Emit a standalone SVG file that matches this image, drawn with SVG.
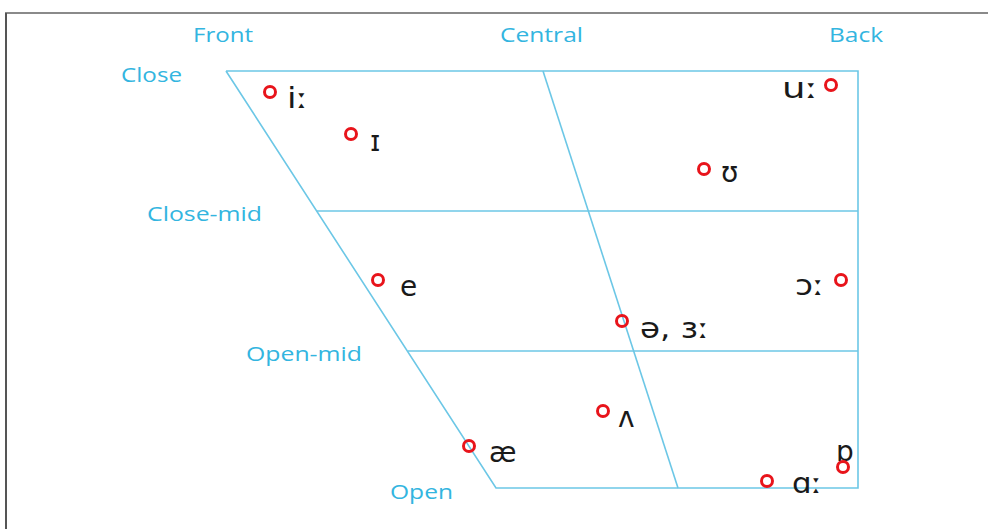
<svg xmlns="http://www.w3.org/2000/svg" width="988" height="529" viewBox="0 0 988 529">
<style>
.lbl{font-family:"Open Sans","Liberation Sans",sans-serif;font-size:20px;fill:#33b5e0}
.grid{stroke:#6cc7e6;stroke-width:1.6;fill:none}
.dot{fill:none;stroke:#e8141b;stroke-width:3}
.ipa{font-family:"DejaVu Sans","Noto Sans",sans-serif;font-size:28px;fill:#1a1a1a}
</style>
<rect width="988" height="529" fill="#fff"/>
<line x1="5" y1="13" x2="988" y2="13" stroke="#8a8a8a" stroke-width="2"/>
<line x1="6" y1="13" x2="6" y2="529" stroke="#555" stroke-width="2"/>
<g id="labels">
<text class="lbl" x="193" y="42" textLength="60" lengthAdjust="spacingAndGlyphs">Front</text>
<text class="lbl" x="500" y="42" textLength="83" lengthAdjust="spacingAndGlyphs">Central</text>
<text class="lbl" x="829" y="42" textLength="54" lengthAdjust="spacingAndGlyphs">Back</text>
<text class="lbl" x="121" y="82" textLength="61" lengthAdjust="spacingAndGlyphs">Close</text>
<text class="lbl" x="147" y="221" textLength="115" lengthAdjust="spacingAndGlyphs">Close-mid</text>
<text class="lbl" x="246" y="361" textLength="116" lengthAdjust="spacingAndGlyphs">Open-mid</text>
<text class="lbl" x="390" y="499" textLength="63" lengthAdjust="spacingAndGlyphs">Open</text>
</g>
<g id="connectors">
<polyline class="grid" points="226,71 858,71 858,488 496,488 226,71"/>
<line class="grid" x1="543" y1="71" x2="678" y2="488"/>
<line class="grid" x1="317" y1="211" x2="858" y2="211"/>
<line class="grid" x1="408" y1="351" x2="858" y2="351"/>
</g>
<g id="i-long"><circle class="dot" cx="270" cy="92" r="5.5"/><text class="ipa" x="287" y="108" textLength="21" lengthAdjust="spacingAndGlyphs">iː</text></g>
<g id="i-short"><circle class="dot" cx="351" cy="134" r="5.5"/><text class="ipa" x="370" y="151">ɪ</text></g>
<g id="u-long"><circle class="dot" cx="831" cy="85" r="5.5"/><text class="ipa" x="782" y="98" textLength="36" lengthAdjust="spacingAndGlyphs">uː</text></g>
<g id="u-short"><circle class="dot" cx="704" cy="169" r="5.5"/><text class="ipa" x="721" y="182">ʊ</text></g>
<g id="e"><circle class="dot" cx="378" cy="280" r="5.5"/><text class="ipa" x="400" y="296">e</text></g>
<g id="o-long"><circle class="dot" cx="841" cy="280" r="5.5"/><text class="ipa" x="795" y="295" textLength="29" lengthAdjust="spacingAndGlyphs">ɔː</text></g>
<g id="schwa"><circle class="dot" cx="622" cy="321" r="5.5"/><text class="ipa" x="640" y="338" textLength="69" lengthAdjust="spacingAndGlyphs">ə, ɜː</text></g>
<g id="wedge"><circle class="dot" cx="603" cy="411" r="5.5"/><text class="ipa" x="618" y="427">ʌ</text></g>
<g id="ae"><circle class="dot" cx="469" cy="446" r="5.5"/><text class="ipa" x="489" y="462">æ</text></g>
<g id="a-long"><circle class="dot" cx="767" cy="481" r="5.5"/><text class="ipa" x="792" y="493" textLength="30" lengthAdjust="spacingAndGlyphs">ɑː</text></g>
<g id="o-short"><text class="ipa" x="836" y="461">ɒ</text><circle class="dot" cx="843" cy="467" r="5.5"/></g>
</svg>
